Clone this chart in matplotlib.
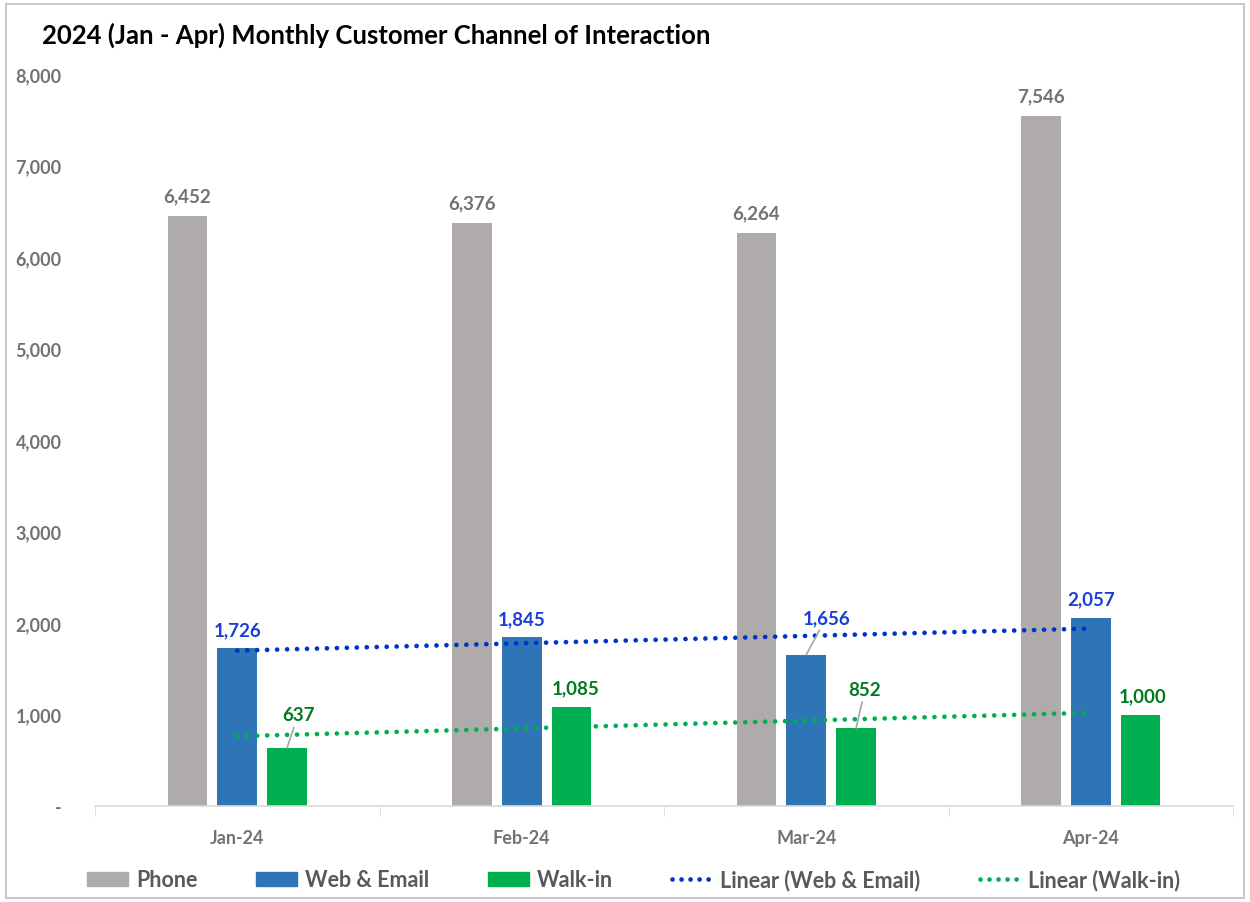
import numpy as np
import matplotlib
matplotlib.use("Agg")
import matplotlib.pyplot as plt
from matplotlib.patches import Patch, Rectangle
from matplotlib.lines import Line2D
from matplotlib.ticker import FuncFormatter, FixedLocator

plt.rcParams['font.family'] = ['Lato', 'DejaVu Sans']

# data
months = ["Jan-24", "Feb-24", "Mar-24", "Apr-24"]
phone = [6452, 6376, 6264, 7546]
web_email = [1726, 1845, 1656, 2057]
walk_in = [637, 1085, 852, 1000]

c_phone = "#AFABAB"
c_web = "#2E75B6"
c_walk = "#00B050"
c_trend_web = "#0033CC"

fig = plt.figure(figsize=(12.5, 9.03), dpi=100)
ax = fig.add_axes([0.076, 0.106, 0.9104, 0.811])

x = np.arange(len(months))
w = 0.14
off = 0.175
ax.bar(x - off, phone, w, color=c_phone)
ax.bar(x, web_email, w, color=c_web)
ax.bar(x + off, walk_in, w, color=c_walk)

# linear trendlines
dots = (0, (0.01, 2.1))
for vals, col in [(web_email, c_trend_web), (walk_in, c_walk)]:
    k, b = np.polyfit(x, vals, 1)
    ax.plot(x, k * x + b, color=col, lw=3.4, linestyle=dots,
            dash_capstyle="round", zorder=3)

# data labels (offsets in pixels; leader line where label is moved away)
lbl_phone = "#767171"
lbl_web = "#1A3FD8"
lbl_walk = "#007A1F"


def label(xs, vals, col, offsets):
    for xi, v, (dx, dy) in zip(xs, vals, offsets):
        lead = dy > 25
        ax.annotate(f"{v:,}", xy=(xi, v), xytext=(dx, dy),
                    textcoords="offset pixels", ha="center", va="center",
                    fontsize=13.5, fontweight="bold", color=col, zorder=5,
                    arrowprops=dict(arrowstyle="-", color="#A6A6A6", lw=1.2,
                                    shrinkA=1, shrinkB=0) if lead else None)


label(x - off, phone, lbl_phone, [(0, 20)] * 4)
label(x, web_email, lbl_web, [(0, 19), (0, 19), (20, 37), (0, 19)])
label(x + off, walk_in, lbl_walk, [(11, 33), (4, 19), (9, 39), (2, 19)])

ax.set_xlim(-0.5, 3.5)
ax.set_ylim(0, 8000)
ax.set_yticks(np.arange(0, 8001, 1000))
ax.yaxis.set_major_formatter(FuncFormatter(lambda v, p: "-" if v == 0 else f"{v:,.0f}"))
ax.set_xticks(x)
ax.set_xticklabels(months)
ax.xaxis.set_minor_locator(FixedLocator(np.arange(-0.5, 3.6, 1)))
ax.tick_params(axis="x", which="major", length=0, pad=16)
ax.tick_params(axis="x", which="minor", length=7, color="#D9D9D9", direction="out")
ax.tick_params(axis="y", length=0, pad=24)
for t in ax.get_xticklabels() + ax.get_yticklabels():
    t.set_fontsize(13)
    t.set_fontweight("bold")
    t.set_color("#767171")

for s in ["top", "right", "left"]:
    ax.spines[s].set_visible(False)
ax.spines["bottom"].set_color("#D9D9D9")
ax.spines["bottom"].set_linewidth(1.2)

fig.text(0.034, 0.961, "2024 (Jan - Apr) Monthly Customer Channel of Interaction",
         fontsize=18.5, fontweight="bold", color="black", va="center", ha="left")

handles = [Patch(color=c_phone), Patch(color=c_web), Patch(color=c_walk),
           Line2D([], [], color=c_trend_web, lw=3.4, linestyle=(0, (0.01, 1.9)), dash_capstyle="round"),
           Line2D([], [], color=c_walk, lw=3.4, linestyle=(0, (0.01, 1.9)), dash_capstyle="round")]
names = ["Phone", "Web & Email", "Walk-in", "Linear (Web & Email)", "Linear (Walk-in)"]
leg = fig.legend(handles, names, loc="center", bbox_to_anchor=(0.507, 0.025), ncol=5,
                 frameon=False, handlelength=1.9, handleheight=0.65, handletextpad=0.35,
                 columnspacing=2.75, prop={"size": 15.5, "weight": "bold"})
for t in leg.get_texts():
    t.set_color("#595959")

fig.add_artist(Rectangle((0.005, 0.004), 0.99, 0.99, transform=fig.transFigure,
                         fill=False, edgecolor="#BFBFBF", lw=1.2))

fig.savefig("out.png", dpi=100)
